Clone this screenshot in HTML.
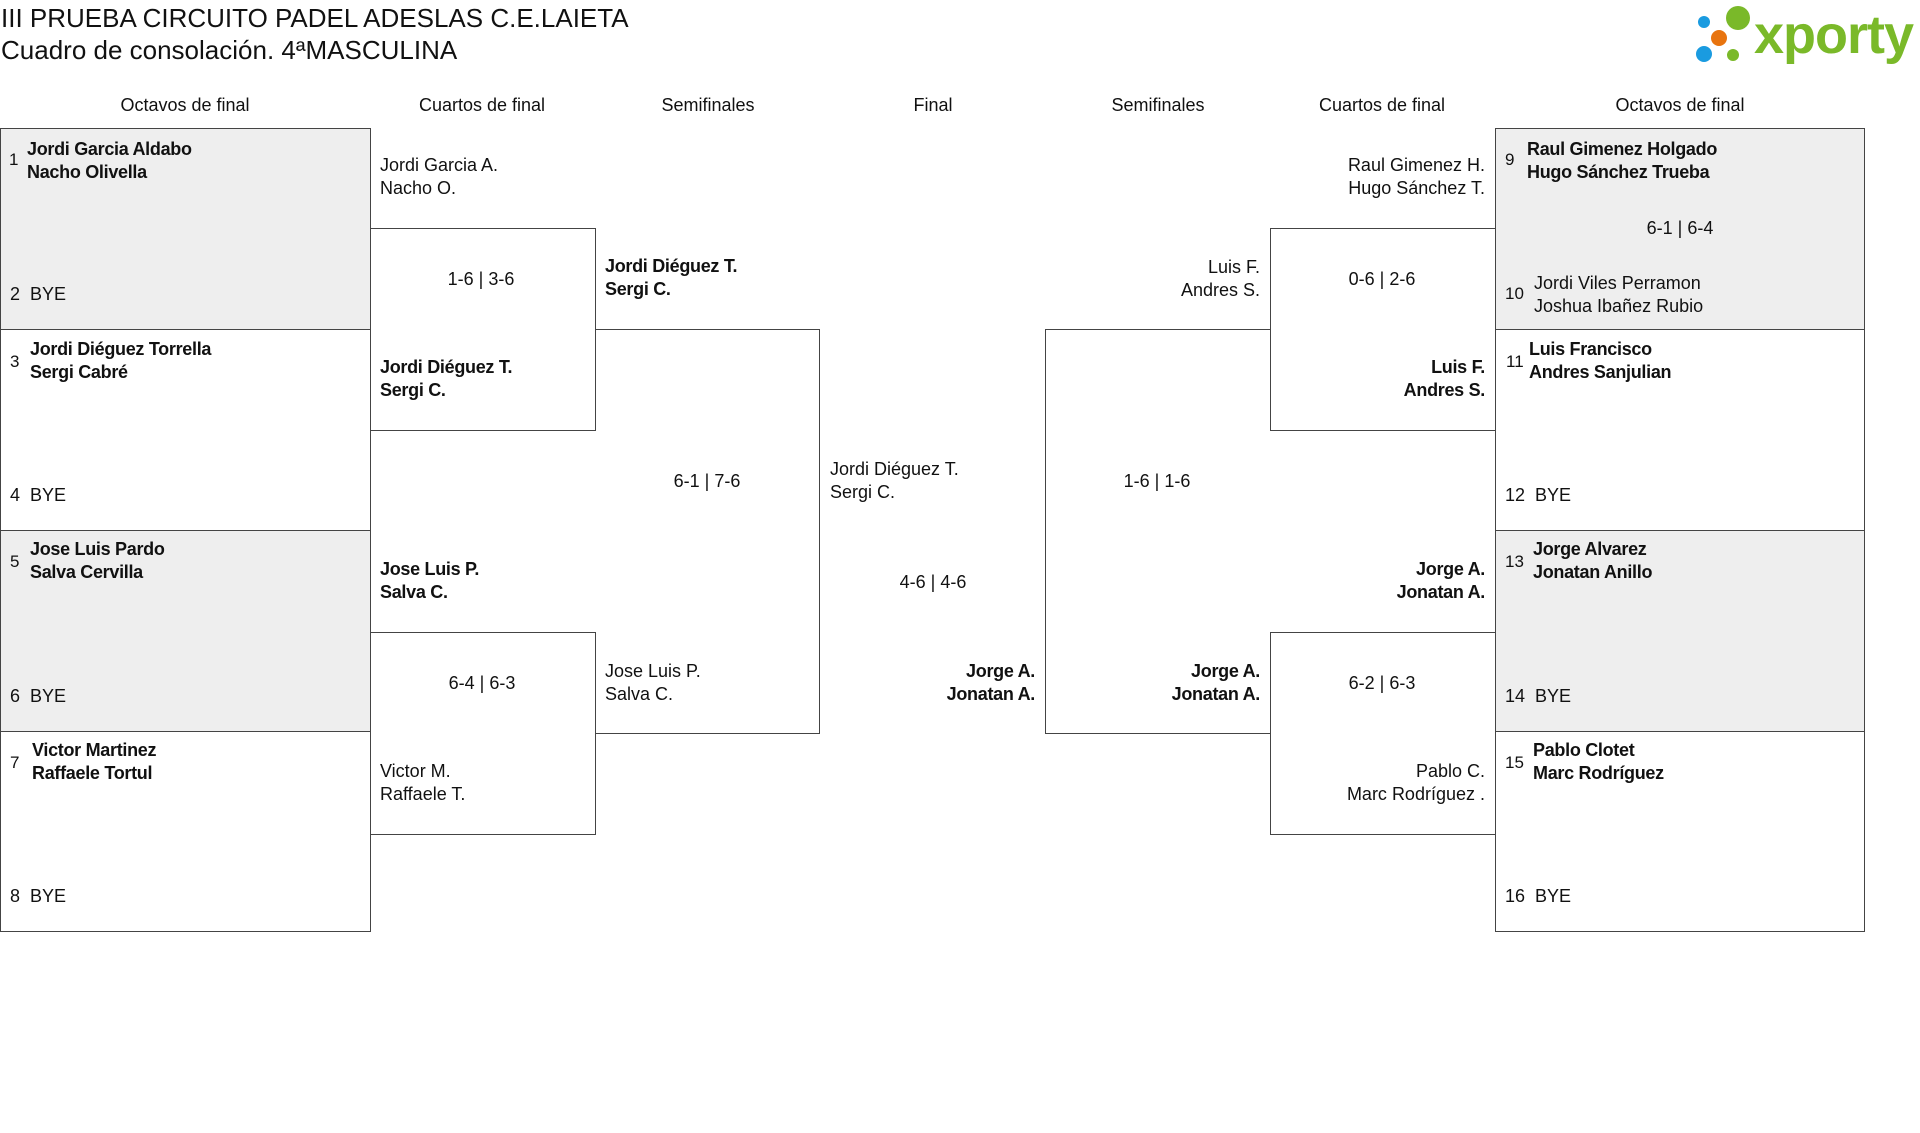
<!DOCTYPE html>
<html><head><meta charset="utf-8"><style>
body{margin:0;width:1920px;height:1133px;background:#fff;position:relative;overflow:hidden;font-family:"Liberation Sans",sans-serif;color:#111}
.b{position:absolute;border:1px solid #444;box-sizing:border-box}
.nl{border-left:none}
.nr{border-right:none}
.g{background:#eee}
.t{position:absolute;font-size:18px;line-height:23px;white-space:nowrap}
.bd{font-weight:bold;letter-spacing:-0.3px}
.r{text-align:right}
.c{text-align:center;width:200px}
.h{position:absolute;font-size:18px;top:95px;width:240px;text-align:center}
.n{position:absolute;font-size:17px}
</style></head><body>
<div style="position:absolute;left:1px;top:2px;font-size:26px;line-height:32px">III PRUEBA CIRCUITO PADEL ADESLAS C.E.LAIETA<br>Cuadro de consolación. 4ªMASCULINA</div>
<svg style="position:absolute;left:1690px;top:4px" width="80" height="64"><circle cx="14" cy="50" r="8" fill="#1a9be0"/><circle cx="14" cy="18" r="6" fill="#1a9be0"/><circle cx="29" cy="34" r="8" fill="#e8740f"/><circle cx="48" cy="14" r="12" fill="#7ab929"/><circle cx="43" cy="51" r="6" fill="#7ab929"/></svg>
<div style="position:absolute;left:1754px;top:4px;font-size:54px;font-weight:bold;color:#7ab929;letter-spacing:-1px">xporty</div>

<div class="h" style="left:65px">Octavos de final</div>
<div class="h" style="left:362px">Cuartos de final</div>
<div class="h" style="left:588px">Semifinales</div>
<div class="h" style="left:813px">Final</div>
<div class="h" style="left:1038px">Semifinales</div>
<div class="h" style="left:1262px">Cuartos de final</div>
<div class="h" style="left:1560px">Octavos de final</div>

<div class="b g" style="left:0;top:128px;width:371px;height:202px"></div>
<div class="b" style="left:0;top:329px;width:371px;height:202px"></div>
<div class="b g" style="left:0;top:530px;width:371px;height:202px"></div>
<div class="b" style="left:0;top:731px;width:371px;height:201px"></div>
<div class="b nl" style="left:371px;top:228px;width:225px;height:203px"></div>
<div class="b nl" style="left:371px;top:632px;width:225px;height:203px"></div>
<div class="b nl" style="left:596px;top:329px;width:224px;height:405px"></div>
<div class="b nr" style="left:1045px;top:329px;width:225px;height:405px"></div>
<div class="b nr" style="left:1270px;top:228px;width:225px;height:203px"></div>
<div class="b nr" style="left:1270px;top:632px;width:225px;height:203px"></div>
<div class="b g" style="left:1495px;top:128px;width:370px;height:202px"></div>
<div class="b" style="left:1495px;top:329px;width:370px;height:202px"></div>
<div class="b g" style="left:1495px;top:530px;width:370px;height:202px"></div>
<div class="b" style="left:1495px;top:731px;width:370px;height:201px"></div>

<div class="n" style="left:9px;top:150px">1</div>
<div class="t bd" style="left:27px;top:138px">Jordi Garcia Aldabo<br>Nacho Olivella</div>
<div class="t" style="left:10px;top:283px">2&nbsp;&nbsp;BYE</div>
<div class="n" style="left:10px;top:352px">3</div>
<div class="t bd" style="left:30px;top:338px">Jordi Diéguez Torrella<br>Sergi Cabré</div>
<div class="t" style="left:10px;top:484px">4&nbsp;&nbsp;BYE</div>
<div class="n" style="left:10px;top:552px">5</div>
<div class="t bd" style="left:30px;top:538px">Jose Luis Pardo<br>Salva Cervilla</div>
<div class="t" style="left:10px;top:685px">6&nbsp;&nbsp;BYE</div>
<div class="n" style="left:10px;top:753px">7</div>
<div class="t bd" style="left:32px;top:739px">Victor Martinez<br>Raffaele Tortul</div>
<div class="t" style="left:10px;top:885px">8&nbsp;&nbsp;BYE</div>

<div class="t" style="left:380px;top:154px">Jordi Garcia A.<br>Nacho O.</div>
<div class="t c" style="left:381px;top:268px">1-6 | 3-6</div>
<div class="t bd" style="left:380px;top:356px">Jordi Diéguez T.<br>Sergi C.</div>
<div class="t bd" style="left:380px;top:558px">Jose Luis P.<br>Salva C.</div>
<div class="t c" style="left:382px;top:672px">6-4 | 6-3</div>
<div class="t" style="left:380px;top:760px">Victor M.<br>Raffaele T.</div>

<div class="t bd" style="left:605px;top:255px">Jordi Diéguez T.<br>Sergi C.</div>
<div class="t c" style="left:607px;top:470px">6-1 | 7-6</div>
<div class="t" style="left:605px;top:660px">Jose Luis P.<br>Salva C.</div>

<div class="t" style="left:830px;top:458px">Jordi Diéguez T.<br>Sergi C.</div>
<div class="t c" style="left:833px;top:571px">4-6 | 4-6</div>
<div class="t bd r" style="right:885px;top:660px">Jorge A.<br>Jonatan A.</div>

<div class="t r" style="right:660px;top:256px">Luis F.<br>Andres S.</div>
<div class="t c" style="left:1057px;top:470px">1-6 | 1-6</div>
<div class="t bd r" style="right:660px;top:660px">Jorge A.<br>Jonatan A.</div>

<div class="t r" style="right:435px;top:154px">Raul Gimenez H.<br>Hugo Sánchez T.</div>
<div class="t c" style="left:1282px;top:268px">0-6 | 2-6</div>
<div class="t bd r" style="right:435px;top:356px">Luis F.<br>Andres S.</div>
<div class="t bd r" style="right:435px;top:558px">Jorge A.<br>Jonatan A.</div>
<div class="t c" style="left:1282px;top:672px">6-2 | 6-3</div>
<div class="t r" style="right:435px;top:760px">Pablo C.<br>Marc Rodríguez .</div>

<div class="n" style="left:1505px;top:150px">9</div>
<div class="t bd" style="left:1527px;top:138px">Raul Gimenez Holgado<br>Hugo Sánchez Trueba</div>
<div class="t c" style="left:1580px;top:217px">6-1 | 6-4</div>
<div class="n" style="left:1505px;top:284px">10</div>
<div class="t" style="left:1534px;top:272px">Jordi Viles Perramon<br>Joshua Ibañez Rubio</div>
<div class="n" style="left:1506px;top:352px">11</div>
<div class="t bd" style="left:1529px;top:338px">Luis Francisco<br>Andres Sanjulian</div>
<div class="t" style="left:1505px;top:484px">12&nbsp;&nbsp;BYE</div>
<div class="n" style="left:1505px;top:552px">13</div>
<div class="t bd" style="left:1533px;top:538px">Jorge Alvarez<br>Jonatan Anillo</div>
<div class="t" style="left:1505px;top:685px">14&nbsp;&nbsp;BYE</div>
<div class="n" style="left:1505px;top:753px">15</div>
<div class="t bd" style="left:1533px;top:739px">Pablo Clotet<br>Marc Rodríguez</div>
<div class="t" style="left:1505px;top:885px">16&nbsp;&nbsp;BYE</div>
</body></html>
